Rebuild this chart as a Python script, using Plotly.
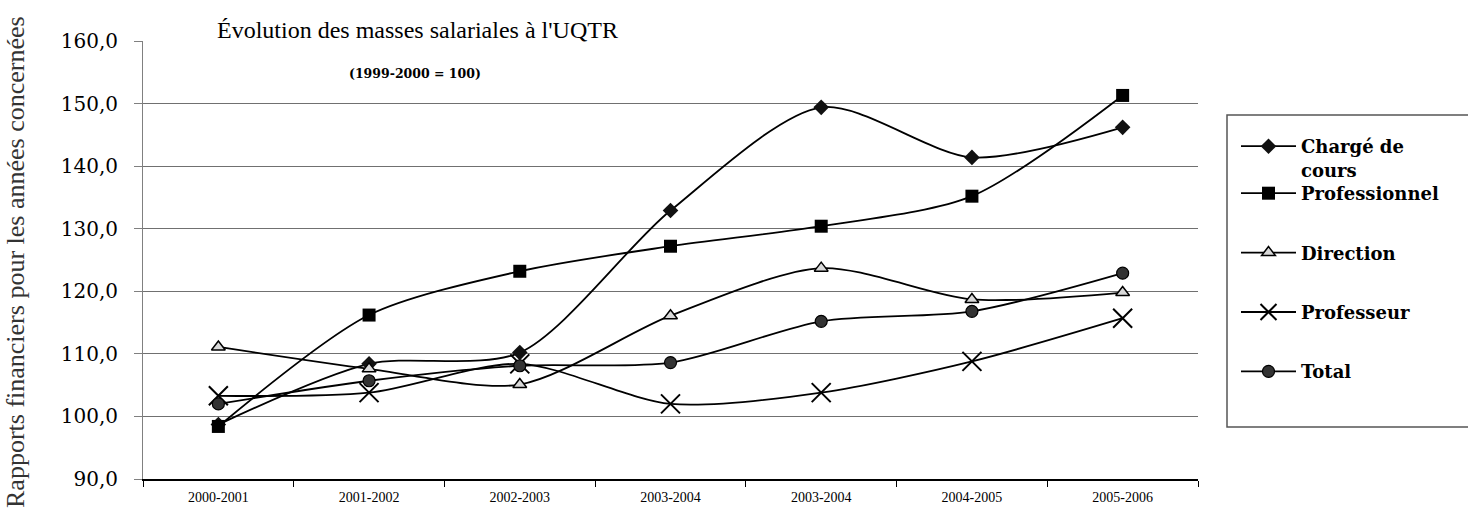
import plotly.graph_objects as go

periods = ["2000-2001", "2001-2002", "2002-2003", "2003-2004", "2003-2004", "2004-2005", "2005-2006"]
charge_de_cours = [98.7, 108.4, 110.2, 132.9, 149.4, 141.4, 146.2]
professionnel = [98.4, 116.2, 123.2, 127.2, 130.4, 135.2, 151.3]
direction = [111.1, 107.6, 105.1, 116.1, 123.7, 118.7, 119.8]
professeur = [103.3, 103.8, 108.4, 102.0, 103.8, 108.8, 115.7]
total = [102.0, 105.7, 108.1, 108.6, 115.2, 116.8, 122.9]
y_ticks = [90, 100, 110, 120, 130, 140, 150, 160]
grid_vals = [100, 110, 120, 130, 140, 150]

L, R, T, B = 143, 1198, 41, 479
W, H = R - L, B - T


def px(x):
    return (x - L) / W


def py(y):
    return (B - y) / H


xpos = list(range(len(periods)))
bounds = [i - 0.5 for i in range(len(periods) + 1)]

series = [
    ("Chargé de<br>cours", charge_de_cours, dict(symbol="diamond", size=12, color="#111111", line=dict(width=0)), "legend"),
    ("Professionnel", professionnel, dict(symbol="square", size=13, color="#000000", line=dict(width=0)), "legend2"),
    ("Direction", direction, dict(symbol="triangle-up", size=12, color="#d9d9d9", line=dict(width=1.5, color="#000000")), "legend2"),
    ("Professeur", professeur, dict(symbol="x-thin-open", size=19, color="#000000", line=dict(width=2, color="#000000")), "legend2"),
    ("Total", total, dict(symbol="circle", size=12, color="#333333", line=dict(width=1.2, color="#000000")), "legend2"),
]

fig = go.Figure()
for i, (name, vals, marker, lg) in enumerate(series):
    fig.add_trace(go.Scatter(
        x=xpos, y=vals, name=name, mode="lines+markers",
        line=dict(color="#000000", width=1.8, shape="spline", smoothing=0.8),
        marker=marker, legend=lg, legendgroup="g%d" % i,
    ))

legend_font = dict(family="DejaVu Serif", size=18, color="#000000", weight="bold")

fig.update_layout(
    width=1468, height=508,
    margin=dict(l=L, r=1468 - R, t=T, b=508 - B, pad=0, autoexpand=False),
    paper_bgcolor="white", plot_bgcolor="white",
    separators=", ",
    showlegend=True,
    legend=dict(x=px(1236), y=py(128), xanchor="left", yanchor="top",
                font=legend_font, bgcolor="rgba(0,0,0,0)", borderwidth=0,
                itemwidth=55, valign="top", tracegroupgap=0),
    legend2=dict(x=px(1236), y=py(175), xanchor="left", yanchor="top",
                 font=legend_font, bgcolor="rgba(0,0,0,0)", borderwidth=0,
                 itemwidth=55, tracegroupgap=33),
    xaxis=dict(
        range=[-0.5, len(periods) - 0.5], automargin=False,
        tickmode="array", tickvals=xpos, ticktext=periods,
        ticks="", showgrid=False, zeroline=False,
        showline=True, linecolor="#000000", linewidth=1.5,
        tickfont=dict(family="Liberation Serif", size=14, color="#000000"),
        ticklabelstandoff=4,
        minor=dict(tickmode="array", tickvals=bounds, ticks="outside", ticklen=6,
                   tickcolor="#000000", tickwidth=1, showgrid=False),
    ),
    yaxis=dict(
        range=[90, 160], tickmode="array", tickvals=y_ticks, tickformat=".1f",
        automargin=False,
        ticks="outside", ticklen=8, tickcolor="#808080", tickwidth=1,
        showgrid=False, zeroline=False,
        showline=True, linecolor="#808080", linewidth=1,
        tickfont=dict(family="DejaVu Serif", size=20, color="#000000"),
        ticklabelstandoff=12,
        minor=dict(tickmode="array", tickvals=grid_vals, ticks="", showgrid=True,
                   gridcolor="#707070", gridwidth=1),
    ),
    shapes=[dict(type="rect", xref="paper", yref="paper",
                 x0=px(1227), x1=px(1472), y0=py(427), y1=py(115),
                 line=dict(color="#555555", width=1.5), layer="below")],
    annotations=[
        dict(text="Évolution des masses salariales à l'UQTR", xref="paper", yref="paper",
             x=px(215), y=py(30), xanchor="left", yanchor="middle", showarrow=False,
             font=dict(family="Liberation Serif", size=24, color="#000000")),
        dict(text="(1999-2000 = 100)", xref="paper", yref="paper",
             x=px(415), y=py(73), xanchor="center", yanchor="middle", showarrow=False,
             font=dict(family="DejaVu Serif", size=12.5, color="#000000", weight="bold")),
        dict(text="Rapports financiers pour les années concernées", xref="paper", yref="paper",
             x=px(15), y=py(262), xanchor="center", yanchor="middle", showarrow=False,
             textangle=-90,
             font=dict(family="Liberation Serif", size=26, color="#333333")),
    ],
)

fig.write_html("out.html", post_script="document.body.style.margin='0';",
               config={"displayModeBar": False})
